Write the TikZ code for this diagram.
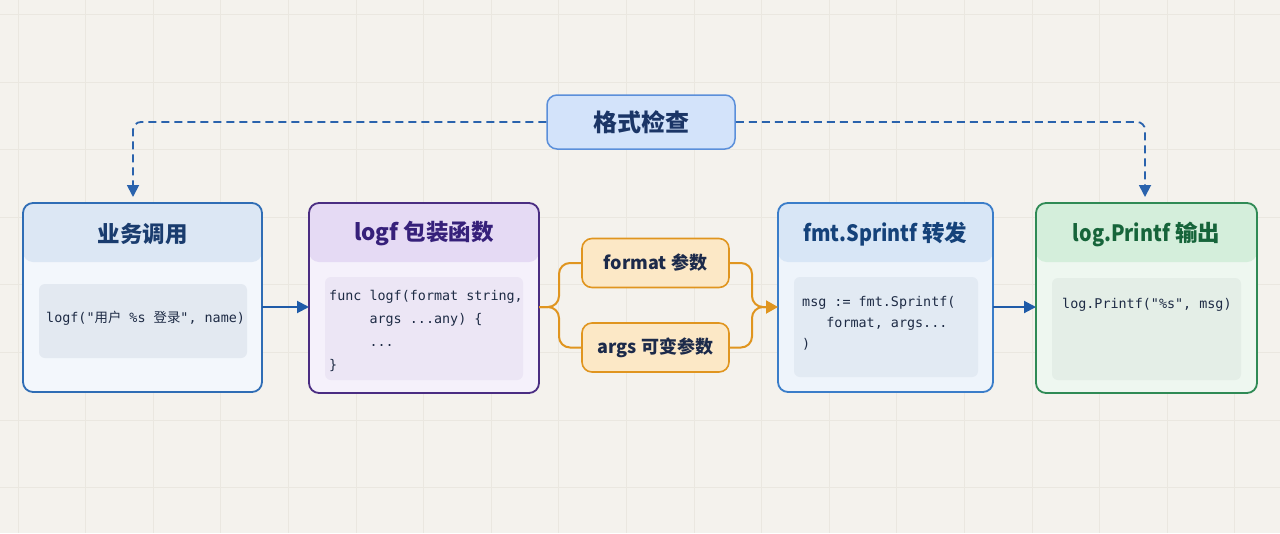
\documentclass[tikz,border=0pt]{standalone}
\usepackage{fontspec}
\newfontfamily\cjk{Noto Sans CJK SC}
\newfontfamily\cjkn{Noto Sans CJK SC}[FakeStretch=0.88]
\newfontfamily\codefont{DejaVu Sans Mono}
\usetikzlibrary{arrows.meta}
\definecolor{bg}{HTML}{F4F2ED}
\definecolor{gridc}{HTML}{EAE7E0}
\definecolor{aline}{HTML}{1F5BA8}
\definecolor{dline}{HTML}{2A63AD}
\definecolor{oline}{HTML}{E0951F}
\definecolor{ofill}{HTML}{FCE8C6}
\definecolor{otext}{HTML}{1C2A4A}
\definecolor{ctext}{HTML}{1E2B45}
\definecolor{chkfill}{HTML}{D3E3FA}
\definecolor{chkline}{HTML}{5B8FDA}
\definecolor{chktext}{HTML}{1B3566}
% box 1
\definecolor{aLine}{HTML}{2F6DB5}
\definecolor{aHead}{HTML}{DCE7F4}
\definecolor{aBody}{HTML}{F3F7FC}
\definecolor{aCode}{HTML}{E3E9F1}
\definecolor{aText}{HTML}{1A3C6E}
% box 2
\definecolor{bLine}{HTML}{4A2D82}
\definecolor{bHead}{HTML}{E5DAF4}
\definecolor{bBody}{HTML}{F5F1FB}
\definecolor{bCode}{HTML}{ECE6F5}
\definecolor{bText}{HTML}{36207A}
% box 4
\definecolor{cLine}{HTML}{3A7DC9}
\definecolor{cHead}{HTML}{D8E6F6}
\definecolor{cBody}{HTML}{EEF4FB}
\definecolor{cCode}{HTML}{E2EAF3}
\definecolor{cText}{HTML}{15427A}
% box 5
\definecolor{dLine}{HTML}{2F8A55}
\definecolor{dHead}{HTML}{D4EEDB}
\definecolor{dBody}{HTML}{EEF7F0}
\definecolor{dCode}{HTML}{E4EEE7}
\definecolor{dText}{HTML}{16643A}
\begin{document}
\begin{tikzpicture}[x=1pt,y=-1pt,
  bigbox/.style n args={3}{rectangle, rounded corners=10pt, line width=1.8pt,
    draw=#1, fill=#3, inner sep=0pt, outer sep=0pt,
    path picture={\fill[#2] (path picture bounding box.north west) rectangle ([yshift=-59pt]path picture bounding box.north east);}},
  hdtext/.style={font=\cjk\bfseries\fontsize{22.5}{26}\selectfont, inner sep=0pt},
  codebox/.style={rectangle, rounded corners=6pt, inner sep=0pt, outer sep=0pt},
  codetext/.style={font=\codefont\fontsize{13.4}{22}\selectfont, text=ctext, inner sep=0pt, text height=10pt, text depth=3pt, anchor=west},
  pill/.style={rectangle, rounded corners=10pt, line width=1.6pt, draw=oline, fill=ofill,
    minimum width=147pt, minimum height=49pt, inner sep=0pt, outer sep=0pt,
    text=otext, font=\cjk\bfseries\fontsize{18}{22}\selectfont},
  arr/.style={line width=2pt, draw=aline, -{Triangle[length=12pt,width=12pt]}},
  oarr/.style={line width=2pt, draw=oline, rounded corners=11pt},
  dashl/.style={line width=1.8pt, draw=dline, dash pattern=on 8pt off 5pt, rounded corners=8pt, -{Triangle[length=12pt,width=12pt]}}
]
\fill[bg] (0,0) rectangle (1280,533);
\useasboundingbox (0,0) rectangle (1280,533);
\foreach \i in {0,...,18} \draw[gridc, line width=0.9pt] ({18+67.6*\i},0) -- ({18+67.6*\i},533);
\foreach \j in {-6,...,1} \draw[gridc, line width=0.9pt] (0,{420+67.6*\j}) -- (1280,{420+67.6*\j});

\coordinate (ay) at (0,307);

% Box 1
\node[bigbox={aLine}{aHead}{aBody}, minimum width=239pt, minimum height=189pt] (b1) at (142.5,297.5) {};
\node[hdtext, text=aText] (b1h) at ([yshift=-31pt]b1.north) {业务调用};
\node[codebox, fill=aCode, minimum width=208pt, minimum height=74pt] (b1c) at (143,321) {};
\node[codetext] (b1t) at (46,319) {logf("{\cjk 用户} \%s {\cjk 登录}", name)};

% Box 2
\node[bigbox={bLine}{bHead}{bBody}, minimum width=230pt, minimum height=190pt] (b2) at (424,298) {};
\node[hdtext, text=bText] (b2h) at ([yshift=-31pt]b2.north) {logf 包装函数};
\node[codebox, fill=bCode, minimum width=198pt, minimum height=103pt] (b2c) at (424,328.5) {};
\node[codetext] (b2t1) at (329,297) {func logf(format string,};
\node[codetext] (b2t2) at (329,320) {\phantom{xxxxx}args ...any) \{};
\node[codetext] (b2t3) at (329,343) {\phantom{xxxxx}...};
\node[codetext] (b2t4) at (329,366) {\}};

% Parameter pills
\node[pill] (fmtp) at (655.5,263) {format 参数};
\node[pill] (argp) at (655.5,347.5) {args 可变参数};

% Box 4
\node[bigbox={cLine}{cHead}{cBody}, minimum width=215pt, minimum height=189pt] (b4) at (885.5,297.5) {};
\node[hdtext, text=cText] (b4h) at ([yshift=-31pt]b4.north) {{\cjkn\bfseries fmt.Sprintf} 转发};
\node[codebox, fill=cCode, minimum width=184pt, minimum height=100pt] (b4c) at (886,327) {};
\node[codetext] (b4t1) at (802,303) {msg := fmt.Sprintf(};
\node[codetext] (b4t2) at (802,324) {\phantom{xxx}format, args...};
\node[codetext] (b4t3) at (802,345) {)};

% Box 5
\node[bigbox={dLine}{dHead}{dBody}, minimum width=221pt, minimum height=190pt] (b5) at (1146.5,298) {};
\node[hdtext, text=dText] (b5h) at ([yshift=-31pt]b5.north) {{\cjkn\bfseries log.Printf} 输出};
\node[codebox, fill=dCode, minimum width=189pt, minimum height=102pt] (b5c) at (1146.5,329) {};
\node[codetext] (b5t) at (1062,305) {log.Printf("\%s", msg)};

% Check node
\node[rectangle, rounded corners=10pt, line width=1.5pt, draw=chkline, fill=chkfill,
  minimum width=188pt, minimum height=54pt, inner sep=0pt,
  text=chktext, font=\cjk\bfseries\fontsize{24}{28}\selectfont] (chk) at (641,122) {格式检查};

% Connectors
\draw[arr] (b1.east |- ay) -- (b2.west |- ay);
\draw[arr] (b4.east |- ay) -- (b5.west |- ay);
\draw[oarr] (b2.east |- ay) -- ++(20,0) |- (fmtp.west);
\draw[oarr] (b2.east |- ay) -- ++(20,0) |- (argp.west);
\draw[oarr] (argp.east) -- ++(23,0) |- ([xshift=-10pt]b4.west |- ay);
\draw[oarr, -{Triangle[length=12pt,width=13pt]}] (fmtp.east) -- ++(23,0) |- (b4.west |- ay);
\draw[dashl] (chk.west) -| ([xshift=-9.5pt,yshift=6pt]b1.north);
\draw[dashl] (chk.east) -| ([xshift=-1.5pt,yshift=6pt]b5.north);
\end{tikzpicture}
\end{document}
